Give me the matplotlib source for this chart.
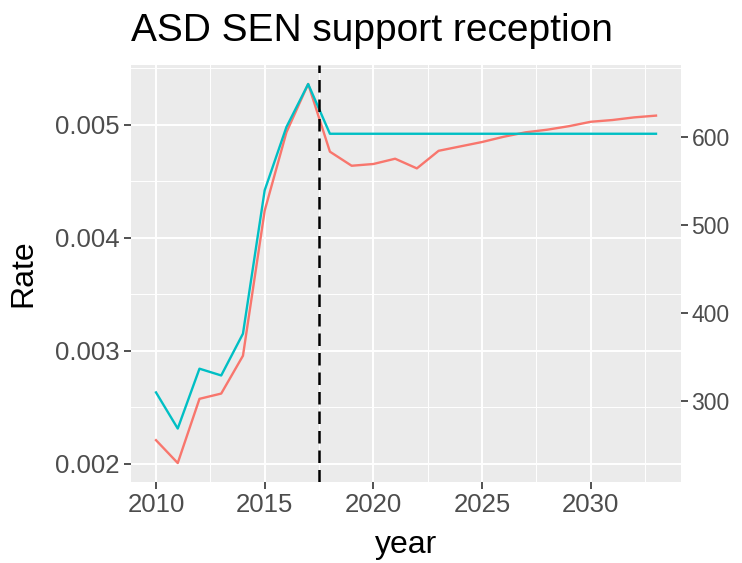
import numpy as np
import matplotlib.pyplot as plt

# Yearly series: actuals to 2017, projections afterwards
years = list(range(2010, 2034))
rate = [0.00263, 0.00231, 0.00284, 0.00278, 0.00315, 0.00442, 0.00498, 0.00536,
        0.00492, 0.00492, 0.00492, 0.00492, 0.00492, 0.00492, 0.00492, 0.00492,
        0.00492, 0.00492, 0.00492, 0.00492, 0.00492, 0.00492, 0.00492, 0.00492]
count = [255, 229, 302, 308, 351, 516, 605, 660, 583, 567, 569, 575,
         564, 584, 589, 594, 600, 605, 608, 612, 617, 619, 622, 624]
cutoff_year = 2017.5

# secondary axis: count = scale * rate + offset
scale, offset = 128409, -28.4
to_count = lambda r: scale * np.asarray(r) + offset
to_rate = lambda c: (np.asarray(c) - offset) / scale

plt.rcParams['font.family'] = ['Liberation Sans', 'DejaVu Sans']

fig = plt.figure(figsize=(7.42, 5.63), dpi=100)
ax = fig.add_axes([131 / 742, 81 / 563, 550 / 742, 417 / 563])
ax.set_facecolor('#EBEBEB')

count_as_rate = to_rate(count)
ax.plot(years, count_as_rate, color='#F8766D', lw=1.7, zorder=3)
ax.plot(years, rate, color='#00BFC4', lw=1.7, zorder=3)
ax.axvline(cutoff_year, color='black', lw=1.8, ls=(0, (5, 2.8)), zorder=4)

# ggplot-like 5% expansion
lo = min(min(rate), count_as_rate.min())
hi = max(max(rate), count_as_rate.max())
pad = 0.05 * (hi - lo)
ax.set_ylim(lo - pad, hi + pad)
xpad = 0.05 * (years[-1] - years[0])
ax.set_xlim(years[0] - xpad, years[-1] + xpad)

ax.set_xticks([2010, 2015, 2020, 2025, 2030])
ax.set_xticks([2012.5, 2017.5, 2022.5, 2027.5, 2032.5], minor=True)
ax.set_yticks([0.002, 0.003, 0.004, 0.005])
ax.set_yticklabels(['0.002', '0.003', '0.004', '0.005'])
ax.set_yticks([0.0025, 0.0035, 0.0045, 0.0055], minor=True)

ax.grid(which='major', color='white', lw=1.4)
ax.grid(which='minor', color='white', lw=0.7)
ax.set_axisbelow(True)
for s in ax.spines.values():
    s.set_visible(False)

ax.tick_params(which='major', length=5, width=1.2, color='#333333',
               labelcolor='#4D4D4D', labelsize=18.5, pad=3)
ax.tick_params(which='minor', length=0)

sec = ax.secondary_yaxis('right', functions=(to_count, to_rate))
sec.set_yticks([300, 400, 500, 600])
sec.tick_params(length=5, width=1.2, color='#333333',
                labelcolor='#4D4D4D', labelsize=16.5, pad=2.5)
for s in sec.spines.values():
    s.set_visible(False)

ax.set_xlabel('year', fontsize=23, labelpad=9)
ax.set_ylabel('Rate', fontsize=23, labelpad=12)
ax.set_title('ASD SEN support reception', fontsize=28, loc='left', pad=17)

fig.savefig('out.png', dpi=100)
